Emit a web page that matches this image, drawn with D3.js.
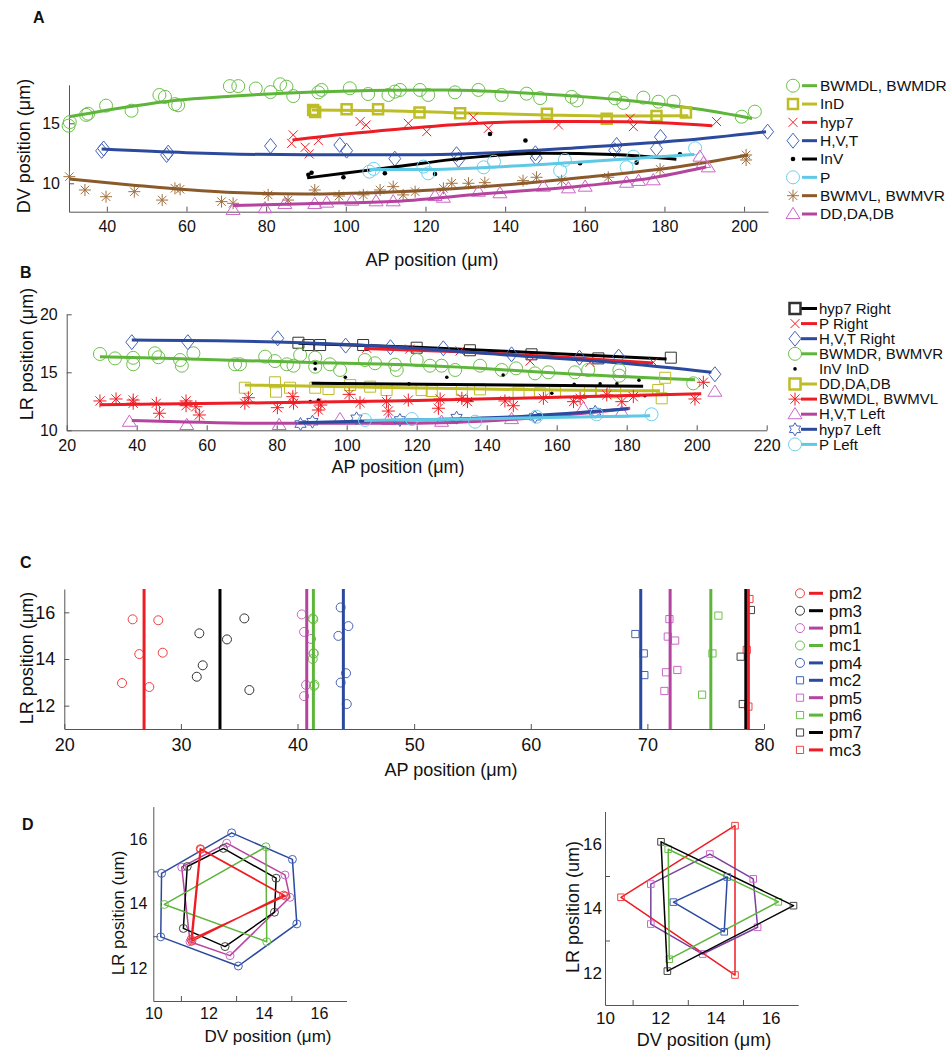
<!DOCTYPE html>
<html><head><meta charset="utf-8">
<script src="https://cdn.jsdelivr.net/npm/d3@7"></script>
<style>
body{margin:0;background:#fff;}
svg text{font-family:"Liberation Sans",Arial,Helvetica,sans-serif;}
</style></head><body>
<svg id="c" width="948" height="1050"></svg>
<script>
// ================= DATA =================
// ---- Panel A : AP vs DV ----
const aNames = ["BWMDL, BWMDR","InD","hyp7","H,V,T","InV","P","BWMVL, BWMVR","DD,DA,DB"];
const aXTicks = [40,60,80,100,120,140,160,180,200];
const aYTicks = [10,15];
const aBWMD = [[30.4,14.8],[30.7,15.1],[34.8,15.7],[35.3,15.8],[39.8,16.47],[46.2,16.05],[53.2,17.36],[54.6,17.2],[57.1,16.6],[57.9,16.5],[70.9,18.1],[73.0,18.1],[77.4,17.9],[81.1,17.6],[83.5,18.25],[85.1,18.05],[86.8,17.27],[93.1,17.58],[93.9,17.78],[101.0,17.92],[105.6,17.44],[110.7,17.36],[112.3,17.64],[113.6,17.78],[118.6,17.78],[120.7,17.36],[127.4,17.58],[133.3,17.78],[139.1,17.36],[145.4,17.47],[148.8,17.1],[156.7,17.2],[158.0,16.9],[167.6,17.08],[169.7,16.7],[174.7,17.14],[178.5,16.8],[182.3,16.8],[199.4,15.55],[202.7,15.97]];
const aBWMDFit = [[30.5,15.55],[46,16.4],[57,16.9],[71,17.25],[92,17.6],[111,17.75],[125,17.78],[146,17.5],[175,16.75],[192,16.0],[202,15.4]];
const aInD = [[91.8,16.1],[92.3,15.95],[100.2,16.17],[108.1,16.17],[118.5,15.89],[128.7,15.83],[150.5,15.8],[165.5,15.37],[178.0,15.6],[185.4,15.89]];
const aInDFit = [[91.5,16.1],[110,16.05],[130,15.85],[150,15.7],[170,15.6],[186,15.62]];
const aHyp7 = [[86.8,14.03],[86.4,13.33],[89.8,13.0],[90.8,12.44],[93.1,13.56],[103.6,15.14],[105.1,14.86],[115.7,15.0],[120.3,14.3],[132.0,15.5],[135.8,14.58],[153.4,14.86],[171.4,15.42],[172.2,14.72],[193.1,15.14]];
const aHyp7Fit = [[86.6,13.6],[100,14.1],[113,14.5],[130,14.95],[150,15.15],[170,15.12],[192,14.8]];
const aHVT = [[38.7,12.7],[39.2,12.9],[55.0,12.36],[55.4,12.55],[81.1,13.11],[98.5,13.19],[100.2,12.72],[112.3,12.05],[127.8,12.42],[128.3,11.95],[147.6,12.5],[147.8,12.1],[168.0,13.19],[167.5,12.75],[179.0,13.86],[178.0,12.89],[205.9,14.3]];
const aHVTFit = [[38.7,12.85],[60,12.55],[90,12.37],[115,12.37],[134,12.5],[160,13.0],[184,13.56],[205.5,14.3]];
const aInV = [[91.4,10.88],[90.6,10.7],[99.4,10.5],[109.8,10.83],[122.4,10.77],[136.2,14.11],[145.1,13.56],[158.8,11.67],[173.0,11.72],[183.9,12.42]];
const aInVFit = [[90.3,10.45],[100,10.85],[113,11.4],[133,12.2],[150,12.5],[167,12.4],[183,12.0]];
const aP = [[105.9,10.97],[107,11.2],[119.5,11.39],[120.7,10.83],[134.6,11.33],[137.2,11.8],[153.8,11.05],[155.0,11.94],[170.5,11.33],[172.2,12.22],[187.7,12.92]];
const aPFit = [[105.9,11.15],[120,11.15],[134,11.3],[160,11.8],[187.5,12.4]];
const aBWMV = [[30.6,10.55],[34.5,9.44],[39.8,8.88],[46.9,9.3],[53.9,8.6],[57.1,9.58],[58.4,9.5],[68.8,8.47],[71.7,8.33],[80.5,9.03],[85.5,8.6],[92.2,9.44],[98.3,8.94],[104.4,9.03],[108.6,9.44],[111.9,9.72],[114.4,9.03],[117.4,9.3],[124.5,9.58],[126.6,10.0],[130.8,10.0],[134.9,10.05],[144.5,10.22],[147.9,10.5],[154.2,10.22],[165.9,10.5],[178.9,11.17],[200.5,12.36],[200.5,11.94]];
const aBWMVFit = [[30.6,10.35],[46,9.86],[70,9.25],[90,9.1],[110,9.25],[134,9.7],[160,10.5],[184,11.4],[201,12.35]];
const aDD = [[71.7,7.78],[79.7,7.92],[84.7,8.28],[92.2,8.28],[95.2,8.39],[101.5,8.55],[107.6,8.5],[111.9,8.5],[122.4,8.94],[124.5,8.8],[133.3,9.3],[138.7,9.17],[149.6,9.72],[155.9,9.58],[160.1,9.72],[170.5,10.05],[173.5,10.2],[177.2,10.25],[188.9,12.22],[191.0,11.33],[189.8,11.7]];
const aDDFit = [[71.7,8.15],[90,8.3],[113,8.5],[134,9.1],[160,9.8],[176,10.4],[190.5,11.35]];

// ---- Panel B : AP vs LR ----
const bNames = ["hyp7 Right","P Right","H,V,T Right","BWMDR, BWMVR","InV  InD","DD,DA,DB","BWMDL, BWMVL","H,V,T Left","hyp7 Left","P Left"];
const bXTicks = [20,40,60,80,100,120,140,160,180,200,220];
const bYTicks = [10,15,20];
const bHyp7R = [[86.2,17.55],[89.0,17.35],[92.4,17.35],[104.7,17.35],[120.0,17.12],[135.2,16.9],[152.8,16.55],[171.9,16.2],[192.6,16.26]];
const bHyp7RFit = [[86.2,17.5],[120,17.15],[150,16.75],[191.4,16.15]];
const bPR = [[105.7,17.07],[118,17.0],[132.4,16.84],[152.4,15.97],[169.5,15.86],[187.6,15.86]];
const bPRFit = [[105,17.05],[130,16.8],[160,16.35],[187.5,15.8]];
const bHVTR = [[38.6,17.6],[54.6,17.6],[80.3,17.93],[99.7,17.3],[112.5,17.16],[127.6,17.07],[147.1,16.55],[166.5,16.26],[177.7,16.35],[205.2,14.83]];
const bHVTRFit = [[38.6,17.78],[80,17.62],[110,17.25],[150,16.4],[180,15.75],[204.2,15.0]];
const bBWMDR = [[29.5,16.58],[33.8,16.2],[39.0,16.25],[39.0,15.69],[45.2,16.64],[46.2,16.3],[52.4,16.06],[52.9,15.57],[56.2,16.64],[68.1,15.69],[69.5,15.69],[76.7,16.35],[79.5,15.97],[82.9,15.69],[84.8,15.57],[86.7,16.49],[91.0,16.26],[91.0,15.48],[95.2,15.69],[98.1,15.2],[105.2,16.06],[108.1,15.78],[113.8,15.66],[114.3,15.2],[120.0,16.06],[123.8,15.57],[127.1,15.57],[131.0,15.2],[138.1,15.57],[144.3,15.2],[148.4,15.34],[153.8,14.91],[157.6,15.0],[165.2,15.0],[169.0,15.2],[177.9,15.2],[177.9,14.71],[199.0,14.05]];
const bBWMDRFit = [[29.5,16.35],[60,16.1],[90,15.85],[117,15.65],[138,15.35],[166.7,14.8],[199.5,14.35]];
const bInVInD = [[91.0,15.78],[91.0,15.28],[89.6,12.47],[91.9,12.61],[99.6,14.57],[117.8,14.0],[128.6,14.57],[135.5,12.61],[144.7,14.77],[158.6,13.19],[165.0,13.97],[172.4,14.0],[177.2,14.0],[183.5,14.31],[185.2,12.98]];
const bInVFit = [[90,14.05],[130,13.95],[184.7,13.8]];
const bDD = [[70.9,13.67],[79.5,14.14],[79.8,13.33],[83.8,13.67],[91.0,13.67],[94.8,13.56],[101.0,13.9],[106.7,13.76],[111.4,13.47],[121.4,13.47],[124.3,13.39],[132.9,13.47],[138.1,13.53],[149.1,13.27],[155.2,13.19],[159.5,13.27],[169.5,13.33],[172.9,13.33],[176.7,13.27],[189.0,13.47],[190.0,12.76],[191.0,14.53]];
const bDDFit = [[70.9,13.9],[100,13.75],[130,13.6],[160,13.47],[189.5,13.4]];
const bBWMDL = [[29.5,12.53],[34.1,12.7],[39.0,12.33],[39.0,12.61],[45.6,12.33],[46.5,11.47],[54.1,12.53],[54.1,12.12],[56.9,12.03],[57.9,11.32],[70.9,12.33],[71.9,12.81],[80.2,11.95],[84.6,12.9],[84.8,12.33],[91.9,11.75],[92.6,12.18],[100.7,13.1],[103.8,12.38],[111.4,12.47],[111.9,11.66],[117.6,12.61],[126.7,12.7],[126.2,11.9],[132.9,12.76],[134.5,12.47],[145.2,12.53],[147.6,12.12],[156.2,12.76],[164.8,12.47],[166.7,12.76],[174.3,13.05],[178.6,12.47],[181.9,12.9],[199.5,12.7],[201.9,14.14]];
const bBWMDLFit = [[29.5,12.2],[70,12.35],[117,12.55],[160,12.85],[201.3,13.15]];
const bHVTL = [[37.9,10.74],[54.3,10.46],[80.7,10.46],[98.1,10.97],[112,10.9],[127.1,10.74],[147.1,10.97],[167.6,11.9],[178.6,11.55],[205.2,13.33]];
const bHVTLFit = [[38.6,10.85],[80,10.6],[117,10.6],[150,11.0],[181,11.9]];
const bHyp7L = [[86.8,10.54],[90.2,10.74],[102.8,11.03],[115.2,10.89],[131.4,11.09],[153.8,11.17],[171.0,11.6]];
const bHyp7LFit = [[86.2,10.65],[120,10.9],[150,11.2],[180.5,11.85]];
const bPL = [[105.2,10.89],[118.6,10.97],[136.7,10.74],[154.2,11.17],[171.4,11.38],[187.1,11.38]];
const bPLFit = [[105,10.85],[140,11.0],[186.7,11.26]];

// ---- Panel C : AP vs LR of pharyngeal nuclei ----
const cNames = ["pm2","pm3","pm1","mc1","pm4","mc2","pm5","pm6","pm7","mc3"];
const cXTicks = [20,30,40,50,60,70,80];
const cYTicks = [12,14,16];
const cMeanAP = [26.84,33.35,40.79,41.36,43.93,69.43,71.95,75.44,78.44,78.66];
const cPm2 = [[25.86,15.7],[28.06,15.66],[26.43,14.21],[28.44,14.27],[24.95,12.97],[27.29,12.8]];
const cPm3 = [[31.58,15.1],[33.95,14.84],[35.44,15.74],[31.87,13.73],[31.36,13.24],[35.87,12.67]];
const cPm1 = [[40.36,15.91],[40.56,15.16],[41.16,14.86],[41.36,14.24],[40.73,12.89],[40.56,12.41]];
const cMc1 = [[41.3,15.74],[41.35,15.7],[41.4,14.24],[41.3,14.0],[41.41,12.84],[41.45,12.9]];
const cPm4 = [[43.7,16.21],[44.36,15.41],[43.5,14.99],[44.16,13.39],[43.7,12.99],[44.22,12.07]];
const cMc2 = [[68.97,15.07],[69.69,14.24],[69.74,13.31]];
const cPm5 = [[71.89,15.71],[71.75,14.96],[72.38,14.79],[71.6,13.43],[72.57,13.53],[71.46,12.63]];
const cPm6 = [[76.09,15.86],[75.58,14.24],[74.69,12.47]];
const cPm7 = [[78.88,16.1],[78.0,14.1],[78.18,12.07]];
const cMc3 = [[78.75,16.57],[78.52,14.39],[78.66,11.96]];

// ---- Panel D : DV vs LR rings ----
const dXLabels = [10,12,14,16];
const dXMinor = [11,13,15];
const dYLabels = [12,14,16];
const dYMinor = [13,15];
const dLPm4 = [[12.84,16.19],[15.04,15.37],[15.2,13.38],[13.08,12.08],[10.27,12.98],[10.3,14.94]];
const dLPm1 = [[12.66,15.87],[14.77,14.89],[14.95,14.2],[12.78,12.4],[11.33,12.83],[11.03,15.13]];
const dLPm3 = [[12.54,15.71],[14.45,14.79],[14.39,13.74],[12.6,12.68],[11.09,13.24],[11.23,15.15]];
const dLPm2 = [[11.7,15.7],[14.72,14.27],[11.4,12.85],[11.72,15.68],[14.78,14.24],[11.37,12.9]];
const dLMc1 = [[14.08,15.76],[10.4,13.98],[14.11,12.83]];
const dRMc3 = [[14.71,16.56],[10.58,14.34],[14.71,11.93]];
const dRPm7 = [[12.03,16.06],[16.83,14.08],[12.26,12.05]];
const dRPm6 = [[12.29,15.83],[16.28,14.2],[12.33,12.42]];
const dRPm5 = [[13.8,15.68],[15.37,14.91],[15.53,13.41],[13.54,12.58],[11.66,13.51],[11.66,14.75]];
const dRMc2 = [[14.43,14.97],[14.32,13.27],[12.48,14.19]];

// ================= STYLE =================
const C = {
  green:"#5db53a", greenM:"#6cc04a", olive:"#bdbd26", red:"#ee1c24", blue:"#2b4a9e", blueM:"#4563b8",
  black:"#000", cyan:"#5ec8e5", cyanM:"#6fd0ea", brown:"#8b5a2b", brownM:"#a0703e",
  mag:"#b5449e", magM:"#cc66c8", purple:"#7b3f9c", axis:"#555"
};
const FONT = '"Liberation Sans", Arial, Helvetica, sans-serif';
const svg = d3.select("#c");

function drawMarker(g, type, x, y, s, color, sw) {
  sw = sw || 1;
  if (type === "circle") { g.append("circle").attr("cx",x).attr("cy",y).attr("r",s).attr("fill","none").attr("stroke",color).attr("stroke-width",sw); return; }
  if (type === "dot") { g.append("circle").attr("cx",x).attr("cy",y).attr("r",s).attr("fill",color); return; }
  const p = d3.path();
  if (type === "square") p.rect(x-s,y-s,2*s,2*s);
  else if (type === "diamond") { p.moveTo(x,y-s*1.25); p.lineTo(x+s,y); p.lineTo(x,y+s*1.25); p.lineTo(x-s,y); p.closePath(); }
  else if (type === "x") { p.moveTo(x-s,y-s); p.lineTo(x+s,y+s); p.moveTo(x-s,y+s); p.lineTo(x+s,y-s); }
  else if (type === "asterisk") { const d=s*0.707; p.moveTo(x-s,y);p.lineTo(x+s,y);p.moveTo(x,y-s);p.lineTo(x,y+s);p.moveTo(x-d,y-d);p.lineTo(x+d,y+d);p.moveTo(x-d,y+d);p.lineTo(x+d,y-d); }
  else if (type === "triangle") { p.moveTo(x,y-s*0.95); p.lineTo(x+s,y+s*0.65); p.lineTo(x-s,y+s*0.65); p.closePath(); }
  else if (type === "hexagram") { for (let i=0;i<12;i++){ const a=-Math.PI/2+i*Math.PI/6; const r=i%2?s*0.58:s; const px=x+r*Math.cos(a), py=y+r*Math.sin(a); if(i) p.lineTo(px,py); else p.moveTo(px,py);} p.closePath(); }
  g.append("path").attr("d",p.toString()).attr("fill","none").attr("stroke",color).attr("stroke-width",sw);
}

function styleAxis(a, fs) {
  a.attr("font-family",FONT).attr("font-size",fs);
  a.select(".domain").attr("stroke",C.axis).attr("stroke-width",1);
  a.selectAll(".tick line").attr("stroke",C.axis);
  a.selectAll(".tick text").attr("fill","#111");
}
function drawAxes(x, y, xt, yt, fs, pad) {
  const g = svg.append("g");
  const ax = g.append("g").attr("transform",`translate(0,${y.range()[0]})`)
    .call(d3.axisBottom(x).tickValues(xt).tickFormat(d3.format("d")).tickSizeInner(-5).tickSizeOuter(0).tickPadding(pad));
  styleAxis(ax, fs);
  const ay = g.append("g").attr("transform",`translate(${x.range()[0]},0)`)
    .call(d3.axisLeft(y).tickValues(yt).tickFormat(d3.format("d")).tickSizeInner(-5).tickSizeOuter(0).tickPadding(pad));
  styleAxis(ay, fs);
  return g;
}
function label(txt, x, y, fs, rot, weight) {
  const t = svg.append("text").attr("x",x).attr("y",y).attr("font-size",fs).attr("text-anchor","middle")
    .attr("dy","0.35em").attr("fill","#111").attr("font-family",FONT).text(txt);
  if (rot) t.attr("transform",`rotate(-90,${x},${y})`);
  if (weight) t.attr("font-weight",weight).attr("text-anchor","start").attr("dy",null);
  return t;
}
function drawSeries(g, x, y, s) {
  (s.pts||[]).forEach(d => drawMarker(g, s.mk, x(d[0]), y(d[1]), s.ms, s.mc, s.msw));
  if (s.fit) g.append("path").datum(s.fit)
    .attr("d", d3.line().x(d=>x(d[0])).y(d=>y(d[1])).curve(d3.curveMonotoneX))
    .attr("fill","none").attr("stroke",s.lc).attr("stroke-width",s.lw||3).attr("stroke-linecap","butt");
}
function drawLegend(items, x0, y0, step, fs, lineX1, lineX2, textX) {
  const g = svg.append("g");
  items.forEach((s,i) => {
    const yy = y0 + i*step;
    if (s.legLine !== false) g.append("line").attr("x1",lineX1).attr("x2",lineX2).attr("y1",yy).attr("y2",yy).attr("stroke",s.lc).attr("stroke-width",3);
    drawMarker(g, s.mk, x0, yy, s.lms || s.ms, s.mc, s.lmsw || s.msw);
    g.append("text").attr("x",textX).attr("y",yy).attr("dy","0.35em").attr("font-size",fs).attr("font-family",FONT).attr("fill","#111").text(s.name);
  });
}

// ================= PANEL A =================
{
  const x = d3.scaleLinear().domain([30.5,206]).range([69,768]);
  const y = d3.scaleLinear().domain([7.63,18.2]).range([211.7,84.9]);
  drawAxes(x, y, aXTicks, aYTicks, 16, 9);
  const series = [
    {name:aNames[0], pts:aBWMD, fit:aBWMDFit, mk:"circle", ms:6.5, mc:C.greenM, lc:C.green},
    {name:aNames[1], pts:aInD, fit:aInDFit, mk:"square", ms:5, msw:2.5, mc:C.olive, lc:C.olive},
    {name:aNames[2], pts:aHyp7, fit:aHyp7Fit, mk:"x", ms:4.5, mc:C.red, lc:C.red},
    {name:aNames[3], pts:aHVT, fit:aHVTFit, mk:"diamond", ms:6, mc:C.blueM, lc:C.blue},
    {name:aNames[4], pts:aInV, fit:aInVFit, mk:"dot", ms:2.3, mc:C.black, lc:C.black},
    {name:aNames[5], pts:aP, fit:aPFit, mk:"circle", ms:6.5, mc:C.cyanM, lc:C.cyan},
    {name:aNames[6], pts:aBWMV, fit:aBWMVFit, mk:"asterisk", ms:6, mc:C.brownM, lc:C.brown},
    {name:aNames[7], pts:aDD, fit:aDDFit, mk:"triangle", ms:7, mc:C.magM, lc:C.mag}
  ];
  const g = svg.append("g");
  series.forEach(s => drawSeries(g, x, y, s));
  drawLegend(series, 793, 85.7, 18.33, 15.5, 802, 817, 820);
  label("AP position (\u03bcm)", 432, 260, 18);
  label("DV position (\u03bcm)", 24, 146, 18, true);
  label("A", 33, 23, 16, false, "bold");
}

// ================= PANEL B =================
{
  const x = d3.scaleLinear().domain([20,220]).range([66.7,766.7]);
  const y = d3.scaleLinear().domain([10,20]).range([430.3,314.3]);
  drawAxes(x, y, bXTicks, bYTicks, 16, 9);
  const series = [
    {name:bNames[0], pts:bHyp7R, fit:bHyp7RFit, mk:"square", ms:5.5, mc:"#333", lc:C.black, lmsw:2.5},
    {name:bNames[1], pts:bPR, fit:bPRFit, mk:"x", ms:4.5, mc:C.red, lc:C.red},
    {name:bNames[2], pts:bHVTR, fit:bHVTRFit, mk:"diamond", ms:6, mc:C.blueM, lc:C.blue},
    {name:bNames[3], pts:bBWMDR, fit:bBWMDRFit, mk:"circle", ms:6.5, mc:C.greenM, lc:C.green},
    {name:bNames[4], pts:bInVInD, fit:null, mk:"dot", ms:1.8, mc:C.black, lc:C.black, legLine:false},
    {name:bNames[5], pts:bDD, fit:bDDFit, mk:"square", ms:5.5, mc:C.olive, lc:C.olive, lmsw:2.5},
    {name:bNames[6], pts:bBWMDL, fit:bBWMDLFit, mk:"asterisk", ms:6.5, mc:C.red, lc:C.red},
    {name:bNames[7], pts:bHVTL, fit:bHVTLFit, mk:"triangle", ms:7, mc:C.magM, lc:C.mag},
    {name:bNames[8], pts:bHyp7L, fit:bHyp7LFit, mk:"hexagram", ms:6.5, mc:C.blueM, lc:C.blue},
    {name:bNames[9], pts:bPL, fit:bPLFit, mk:"circle", ms:6.5, mc:C.cyanM, lc:C.cyan}
  ];
  const g = svg.append("g");
  series.forEach(s => drawSeries(g, x, y, s));
  // black fit line belonging to the InV/InD dots
  g.append("path").datum(bInVFit).attr("d", d3.line().x(d=>x(d[0])).y(d=>y(d[1])))
    .attr("fill","none").attr("stroke",C.black).attr("stroke-width",3);
  drawLegend(series, 795, 308.5, 15.1, 15, 801, 817, 819);
  label("AP position (\u03bcm)", 398, 467, 18);
  label("LR position (\u03bcm)", 27, 354, 18, true);
  label("B", 20, 278, 16, false, "bold");
}

// ================= PANEL C =================
{
  const x = d3.scaleLinear().domain([20,80]).range([64.3,764]);
  const y = d3.scaleLinear().domain([11,17]).range([729,589]);
  drawAxes(x, y, cXTicks, cYTicks, 18, 9);
  const cols = [C.red, C.black, C.mag, C.green, C.blue, C.blue, C.mag, C.green, C.black, C.red];
  const mcols = ["#f04040","#333",C.magM,C.greenM,C.blueM,C.blueM,C.magM,C.greenM,"#444","#f04040"];
  const pts = [cPm2,cPm3,cPm1,cMc1,cPm4,cMc2,cPm5,cPm6,cPm7,cMc3];
  const series = cNames.map((n,i) => ({name:n, pts:pts[i], mk: i<5 ? "circle" : "square", ms: i<5 ? 4.5 : 3.6, mc:mcols[i], lc:cols[i]}));
  const g = svg.append("g");
  series.forEach((s,i) => {
    s.pts.forEach(d => drawMarker(g, s.mk, x(d[0]), y(d[1]), s.ms, s.mc, 1));
  });
  series.forEach((s,i) => {
    g.append("line").attr("x1",x(cMeanAP[i])).attr("x2",x(cMeanAP[i])).attr("y1",y(11)).attr("y2",y(17))
      .attr("stroke",s.lc).attr("stroke-width",3);
  });
  drawLegend(series, 800, 593.3, 17.4, 17, 809, 823, 829);
  label("AP position (\u03bcm)", 451, 770, 18);
  label("LR position (\u03bcm)", 27, 658, 18, true);
  label("C", 20, 568, 16, false, "bold");
}

// ================= PANEL D =================
function panelD(x, y, polys, mk, ms, fs, padX, padY) {
  const g = svg.append("g");
  const ax = g.append("g").attr("transform",`translate(0,${y.range()[0]})`)
    .call(d3.axisBottom(x).tickValues(dXLabels).tickFormat(d3.format("d")).tickSize(0).tickPadding(padX));
  styleAxis(ax, fs);
  const axm = g.append("g").attr("transform",`translate(0,${y.range()[0]})`)
    .call(d3.axisBottom(x).tickValues(dXMinor).tickFormat("").tickSizeInner(-5).tickSizeOuter(0));
  styleAxis(axm, fs); axm.select(".domain").remove();
  const ay = g.append("g").attr("transform",`translate(${x.range()[0]},0)`)
    .call(d3.axisLeft(y).tickValues(dYLabels).tickFormat(d3.format("d")).tickSize(0).tickPadding(padY));
  styleAxis(ay, fs);
  const aym = g.append("g").attr("transform",`translate(${x.range()[0]},0)`)
    .call(d3.axisLeft(y).tickValues(dYMinor).tickFormat("").tickSizeInner(-5).tickSizeOuter(0));
  styleAxis(aym, fs); aym.select(".domain").remove();
  polys.forEach(p => {
    g.append("path").datum(p.pts).attr("d", d3.line().x(d=>x(d[0])).y(d=>y(d[1])).curve(d3.curveLinearClosed))
      .attr("fill","none").attr("stroke",p.lc).attr("stroke-width",1.5).attr("stroke-linejoin","round");
    p.pts.forEach(d => drawMarker(g, mk, x(d[0]), y(d[1]), ms, p.mc, 1));
  });
}
{
  const x = d3.scaleLinear().domain([10,17]).range([153.3,346.5]);
  const y = d3.scaleLinear().domain([11,17]).range([1001,806.6]);
  panelD(x, y, [
    {pts:dLPm4, lc:C.blue, mc:C.blueM},
    {pts:dLPm1, lc:C.mag, mc:C.magM},
    {pts:dLPm3, lc:C.black, mc:"#444"},
    {pts:dLMc1, lc:C.green, mc:C.greenM},
    {pts:dLPm2, lc:C.red, mc:"#f04040"}
  ], "circle", 4, 16, 7, 6);
  label("DV position (\u03bcm)", 268, 1036, 17);
  label("LR position (um)", 118, 913, 17, true);
  label("D", 22, 830, 16, false, "bold");
}
{
  const x = d3.scaleLinear().domain([10,17]).range([605,798.2]);
  const y = d3.scaleLinear().domain([11,17]).range([1005,811.5]);
  panelD(x, y, [
    {pts:dRMc3, lc:C.red, mc:"#f04040"},
    {pts:dRPm5, lc:C.purple, mc:C.magM},
    {pts:dRPm6, lc:C.green, mc:C.greenM},
    {pts:dRPm7, lc:C.black, mc:"#444"},
    {pts:dRMc2, lc:C.blue, mc:C.blueM}
  ], "square", 3.3, 17, 7, 3);
  label("DV position (\u03bcm)", 704, 1040, 18);
  label("LR position (um)", 573, 907, 18, true);
}
</script>
</body></html>
